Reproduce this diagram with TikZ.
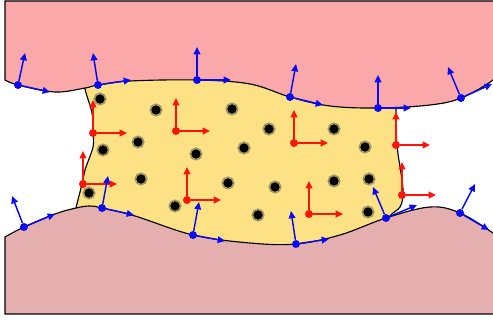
\documentclass[tikz,border=0pt]{standalone}
\usetikzlibrary{arrows.meta,calc}
\definecolor{toppink}{RGB}{250,168,169}
\definecolor{botpink}{RGB}{230,175,175}
\definecolor{yel}{RGB}{252,226,133}
\definecolor{halo}{RGB}{160,150,100}
\definecolor{vblue}{RGB}{10,10,240}
\definecolor{vred}{RGB}{250,20,10}
\tikzset{
  outline/.style={draw=black,line width=0.85pt},
  bdot/.style={circle,fill=vblue,inner sep=0pt,minimum size=6pt},
  rdot/.style={circle,fill=vred,inner sep=0pt,minimum size=6pt},
  barrow/.style={draw=vblue,line width=1.1pt,-{Triangle[length=5.5pt,width=5pt]}},
  rarrow/.style={draw=vred,line width=1.1pt,-{Triangle[length=5.5pt,width=5pt]}},
  particle/.style={circle,fill=black,draw=halo,line width=1.3pt,inner sep=0pt,minimum size=8.5pt},
}
\newcommand{\bvec}[4]{\node[bdot] (#1) at (#2) {};
  \coordinate (#1n) at (#3); \coordinate (#1t) at (#4);
  \draw[barrow] (#1) -- (#1n); \draw[barrow] (#1) -- (#1t);}
\newcommand{\rvec}[2]{\node[rdot] (#1) at (#2) {};
  \coordinate (#1u) at ($(#1)+(0,-33)$); \coordinate (#1r) at ($(#1)+(34,0)$);
  \draw[rarrow] (#1) -- (#1u); \draw[rarrow] (#1) -- (#1r);}
\begin{document}
\begin{tikzpicture}[x=0.75pt,y=-0.75pt]
\useasboundingbox (0,0) rectangle (493,320);
\clip (0,0) rectangle (493,320);
% yellow body
\fill[yel] plot[smooth,tension=0.6] coordinates {(83,70) (85,89) (92,113) (93,133) (93,147) (85,170) (82,184) (76,208) (72,228)}
  -- (72,270) -- (380,270) -- plot[smooth,tension=0.6] coordinates {(380,232) (390,216) (400,207) (403,195) (402,180) (397,145) (396,109) (395,90)} -- (395,60) -- (83,60) -- cycle;
\draw[outline] plot[smooth,tension=0.6] coordinates {(83,70) (85,89) (92,113) (93,133) (93,147) (85,170) (82,184) (76,208) (72,228)};
\draw[outline] plot[smooth,tension=0.6] coordinates {(380,232) (390,216) (400,207) (403,195) (402,180) (397,145) (396,109) (395,90)};
% top pink
\filldraw[fill=toppink,outline] (5,1) -- (5,80) -- plot[smooth,tension=0.6] coordinates {(5,80) (18,85) (55,92) (85,88) (98,85) (130,81) (197,80) (250,84) (290,97) (330,106) (378,108) (430,105) (461,98) (493,80) (500,68)} -- (500,1) -- cycle;
% bottom pink
\filldraw[fill=botpink,outline] (5,314) -- (5,237) -- plot[smooth,tension=0.6] coordinates {(5,237) (24,227) (55,214) (76,208) (90,206) (102,208) (135,216) (193,235) (250,243) (296,244) (340,235) (386,218) (430,207) (460,213) (493,233) (500,240)} -- (500,314) -- cycle;
% particles
\foreach \x/\y [count=\i] in {100/99,156/110,232/109,103/150,138/142,196/154,244/148,269/129,334/129,365/147,141/179,89/193,175/206,228/183,275/187,334/181,369/179,258/215,368/212}
  \node[particle] (p\i) at (\x,\y) {};
% red frames
\rvec{r1}{93,133}
\rvec{r2}{176,131}
\rvec{r3}{83,184}
\rvec{r4}{187,200}
\rvec{r5}{294,143}
\rvec{r6}{396,145}
\rvec{r7}{309,214}
\rvec{r8}{402,195}
% blue top
\bvec{t1}{18,85}{25,53}{50,92}
\bvec{t2}{98,85}{93,53}{131,80}
\bvec{t3}{197,80}{197,47}{231,80}
\bvec{t4}{290,97}{296,64}{323,105}
\bvec{t5}{378,108}{378,75}{411,108}
\bvec{t6}{461,98}{448,67}{492,84}
% blue bottom
\bvec{b1}{24,227}{12,196}{55,214}
\bvec{b2}{102,208}{108,176}{134,215}
\bvec{b3}{193,235}{199,202}{225,241}
\bvec{b4}{296,244}{291,211}{329,239}
\bvec{b5}{386,218}{373,187}{417,205}
\bvec{b6}{460,213}{475,184}{489,230}
\end{tikzpicture}
\end{document}
